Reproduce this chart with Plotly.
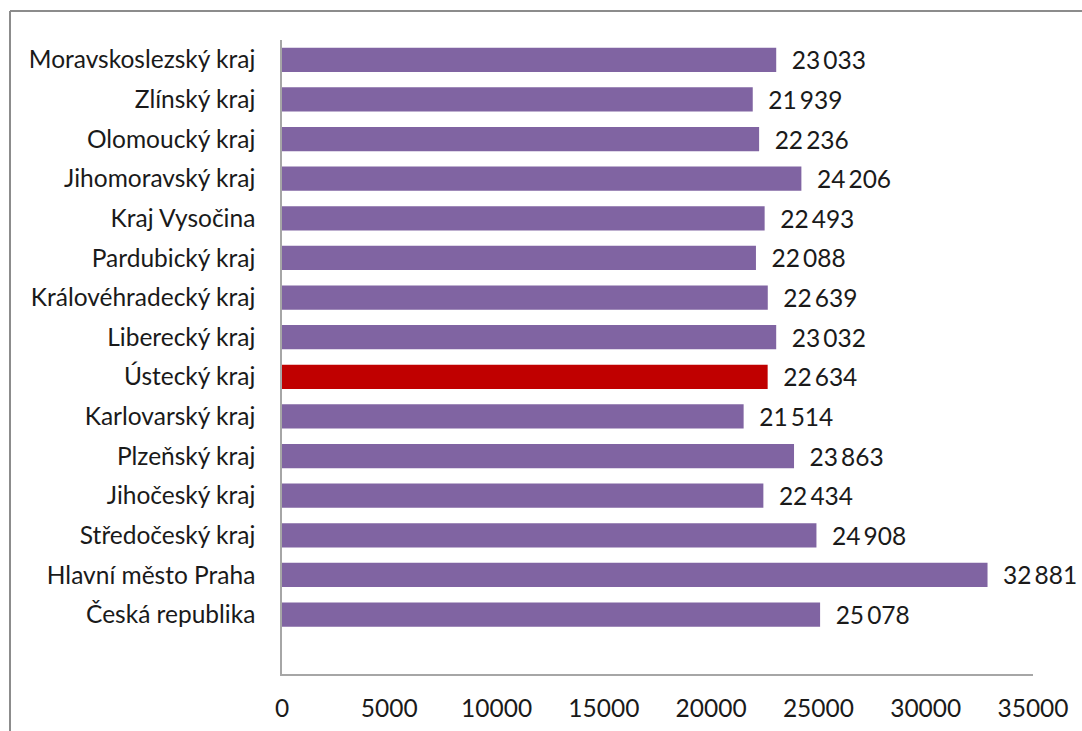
import plotly.graph_objects as go

categories = [
    "Česká republika",
    "Hlavní město Praha",
    "Středočeský kraj",
    "Jihočeský kraj",
    "Plzeňský kraj",
    "Karlovarský kraj",
    "Ústecký kraj",
    "Liberecký kraj",
    "Královéhradecký kraj",
    "Pardubický kraj",
    "Kraj Vysočina",
    "Jihomoravský kraj",
    "Olomoucký kraj",
    "Zlínský kraj",
    "Moravskoslezský kraj",
]
values = [25078, 32881, 24908, 22434, 23863, 21514, 22634, 23032, 22639, 22088, 22493, 24206, 22236, 21939, 23033]
highlight = "Ústecký kraj"
x_ticks = [0, 5000, 10000, 15000, 20000, 25000, 30000, 35000]

PURPLE = "#8064A2"
RED = "#C00000"
colors = [RED if c == highlight else PURPLE for c in categories]
labels = ["  " + f"{v:,}".replace(",", "\u2009") for v in values]

FONT = "Lato"
FS = 24.5
TXT = "#1a1a1a"

fig = go.Figure(
    go.Bar(
        y=list(range(len(categories))),
        x=values,
        orientation="h",
        marker=dict(color=colors, line=dict(width=0)),
        text=labels,
        textposition="outside",
        constraintext="none",
        textfont=dict(family=FONT, size=FS, color=TXT),
        cliponaxis=False,
        width=0.61,
    )
)

W, H = 1082, 731
L, R, T, B = 282, 49, 40, 57
pw, ph = W - L - R, H - T - B

def px(x):
    return (x - L) / pw

def py(y):
    return (H - B - y) / ph

fig.update_layout(
    width=W,
    height=H,
    margin=dict(l=L, r=R, t=T, b=B, autoexpand=False),
    paper_bgcolor="white",
    plot_bgcolor="white",
    showlegend=False,
    font=dict(family=FONT, size=FS, color=TXT),
    xaxis=dict(
        range=[0, 35000],
        tickvals=x_ticks,
        ticktext=[str(t) for t in x_ticks],
        showgrid=False,
        zeroline=False,
        showline=True,
        linecolor="#A6A6A6",
        linewidth=1.5,
        ticks="",
        automargin=False,
        ticklabelstandoff=12,
        tickfont=dict(family=FONT, size=FS, color=TXT),
    ),
    yaxis=dict(
        range=[-1.5, 14.5],
        tickvals=list(range(len(categories))),
        ticktext=categories,
        showgrid=False,
        zeroline=False,
        showline=True,
        linecolor="#A6A6A6",
        linewidth=1.5,
        ticks="",
        automargin=False,
        ticklabelstandoff=20,
        tickfont=dict(family=FONT, size=FS, color=TXT),
    ),
    shapes=[
        dict(type="line", xref="paper", yref="paper", x0=px(10), x1=px(1090), y0=py(11), y1=py(11),
             line=dict(color="#8C8C8C", width=2)),
        dict(type="line", xref="paper", yref="paper", x0=px(10), x1=px(10), y0=py(11), y1=py(740),
             line=dict(color="#8C8C8C", width=2)),
    ],
)

fig.write_html(
    "out.html",
    config={"displayModeBar": False},
    post_script="document.body.style.margin='0';document.body.style.overflow='hidden';",
)
